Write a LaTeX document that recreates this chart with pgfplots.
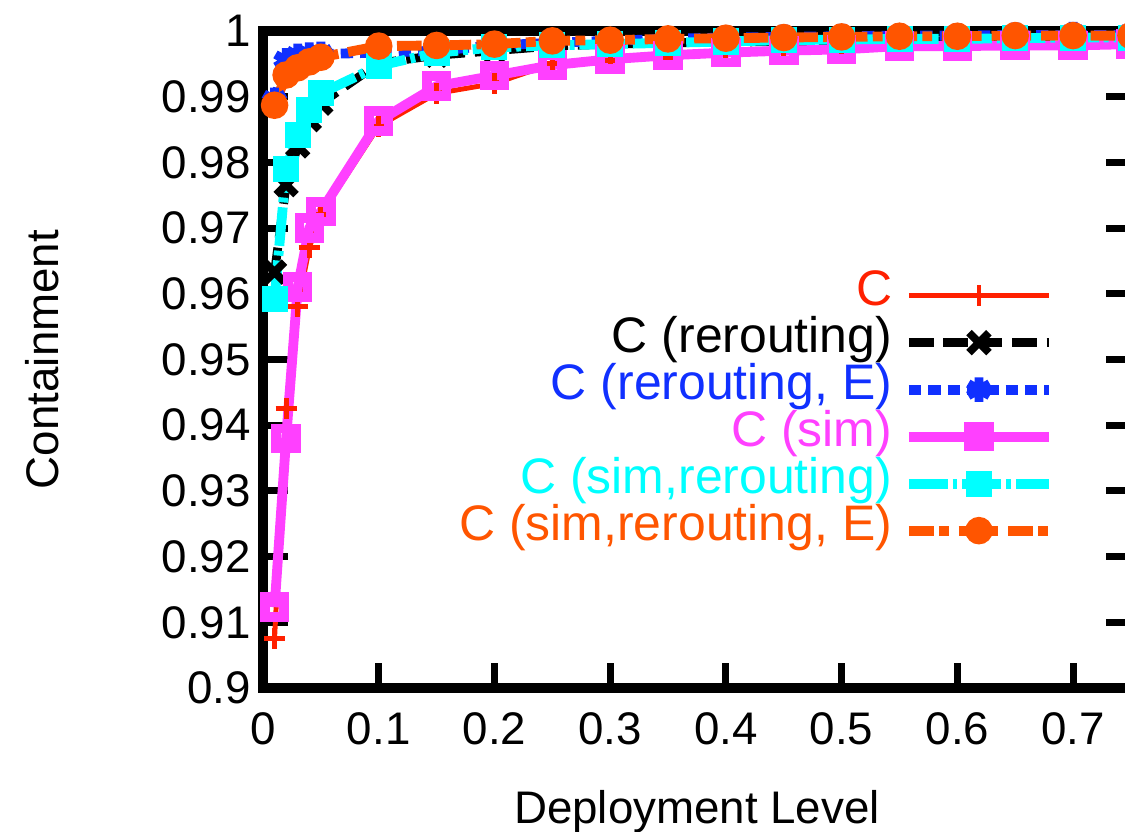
\documentclass[border=0pt]{standalone}
\usepackage{fontspec}
\setmainfont{Liberation Sans}
\usepackage{pgfplots}
\pgfplotsset{compat=1.18}
\definecolor{cC}{RGB}{255,32,0}
\definecolor{cR}{RGB}{0,0,0}
\definecolor{cRE}{RGB}{16,48,255}
\definecolor{cS}{RGB}{255,64,255}
\definecolor{cSR}{RGB}{0,255,255}
\definecolor{cSRE}{RGB}{255,85,0}
\begin{document}
\begin{tikzpicture}[font=\fontsize{13}{15}\selectfont]
\useasboundingbox (0,0) rectangle (11.25,8.32);
\clip (0,0) rectangle (11.25,8.32);
\begin{axis}[
  at={(2.63cm,1.44cm)}, anchor=south west,
  scale only axis, width=8.68cm, height=6.57cm,
  xmin=0, xmax=0.75, ymin=0.9, ymax=1,
  xtick={0,0.1,0.2,0.3,0.4,0.5,0.6,0.7},
  xticklabels={0,0.1,0.2,0.3,0.4,0.5,0.6,0.7},
  ytick={0.9,0.91,0.92,0.93,0.94,0.95,0.96,0.97,0.98,0.99,1},
  yticklabels={0.9,0.91,0.92,0.93,0.94,0.95,0.96,0.97,0.98,0.99,1},
  xticklabel style={yshift=-0.12cm},
  tick align=inside, major tick length=0.25cm,
  axis line style={line width=2.8pt},
  every tick/.style={black, line width=2pt},
  xlabel={Deployment Level}, ylabel={Containment},
  xlabel style={at={(axis description cs:0.5,-0.2055)}, anchor=base},
  ylabel style={at={(axis description cs:-0.236,0.5)}, anchor=base, rotate=0},
  legend plot pos=right, legend cell align=right,
  legend image code/.code={\draw[mark repeat=2,mark phase=2] plot coordinates {(0cm,0cm) (0.7cm,0cm) (1.4cm,0cm)};},
  legend style={at={(0.912,0.634)}, anchor=north east, draw=none, fill=none,
    inner sep=0pt, row sep=0pt, column sep=0.12cm,
    font=\fontsize{14.2}{16}\selectfont,
    nodes={inner sep=0pt, text height=0.33cm, text depth=0.14cm}},
]
\addplot[color=cC, line width=1.4pt, mark=+, mark size=3pt, mark options={solid}] coordinates {
(0.01,0.9076) (0.02,0.9425) (0.03,0.958) (0.04,0.967) (0.05,0.972) (0.1,0.9855) (0.15,0.9905) (0.2,0.992) (0.25,0.995) (0.3,0.9955) (0.35,0.996) (0.4,0.997) (0.45,0.997) (0.5,0.9975) (0.55,0.9977) (0.6,0.9978) (0.65,0.998) (0.7,0.998) (0.75,0.998)};
\addlegendentry{\textcolor{cC}{C}}
\addplot[color=cR, line width=2.5pt, dash pattern=on 7pt off 2.8pt, mark=x, mark size=4pt, mark options={solid, line width=2.2pt}] coordinates {
(0.01,0.9633) (0.02,0.9766) (0.03,0.9825) (0.04,0.9865) (0.05,0.989) (0.1,0.9951) (0.15,0.9963) (0.2,0.997) (0.25,0.9977) (0.3,0.998) (0.35,0.9982) (0.4,0.9983) (0.45,0.9984) (0.5,0.9985) (0.55,0.9985) (0.6,0.9985) (0.65,0.9985) (0.7,0.9985) (0.75,0.9986)};
\addlegendentry{\textcolor{cR}{C (rerouting)}}
\addplot[color=cRE, line width=2.8pt, dash pattern=on 3.5pt off 2pt, mark=asterisk, mark size=3.5pt, mark options={solid, line width=2.5pt}] coordinates {
(0.01,0.9895) (0.02,0.9955) (0.03,0.9962) (0.04,0.9964) (0.05,0.9965) (0.1,0.9967) (0.15,0.997) (0.2,0.9978) (0.25,0.9982) (0.3,0.9985) (0.35,0.9988) (0.4,0.999) (0.45,0.9991) (0.5,0.9992) (0.55,0.9993) (0.6,0.9993) (0.65,0.9994) (0.7,0.9995) (0.75,0.9995)};
\addlegendentry{\textcolor{cRE}{C (rerouting, E)}}
\addplot[color=cS, line width=2.8pt, mark=square, mark size=2.8pt, mark options={solid}] coordinates {
(0.01,0.9123) (0.02,0.938) (0.03,0.961) (0.04,0.970) (0.05,0.9725) (0.1,0.9863) (0.15,0.9916) (0.2,0.9932) (0.25,0.9948) (0.3,0.9957) (0.35,0.9963) (0.4,0.9967) (0.45,0.997) (0.5,0.9972) (0.55,0.9977) (0.6,0.9977) (0.65,0.9978) (0.7,0.9978) (0.75,0.998)};
\addlegendentry{\textcolor{cS}{C (sim)}}
\addplot[color=cSR, line width=2.8pt, dash pattern=on 11pt off 1.4pt on 1.4pt off 1.4pt, mark=square*, mark size=2.3pt, mark options={solid}] coordinates {
(0.01,0.9592) (0.02,0.979) (0.03,0.9842) (0.04,0.988) (0.05,0.9905) (0.1,0.9947) (0.15,0.9967) (0.2,0.9975) (0.25,0.9978) (0.3,0.998) (0.35,0.9982) (0.4,0.9984) (0.45,0.9986) (0.5,0.9987) (0.55,0.9988) (0.6,0.9988) (0.65,0.9989) (0.7,0.999) (0.75,0.999)};
\addlegendentry{\textcolor{cSR}{C (sim,rerouting)}}
\addplot[color=cSRE, line width=2.8pt, dash pattern=on 7pt off 1.5pt on 2.8pt off 2.8pt, mark=*, mark size=2.5pt, mark options={solid}] coordinates {
(0.01,0.9887) (0.02,0.9933) (0.03,0.9944) (0.04,0.9953) (0.05,0.996) (0.1,0.9977) (0.15,0.9978) (0.2,0.998) (0.25,0.9985) (0.3,0.9986) (0.35,0.9988) (0.4,0.9989) (0.45,0.999) (0.5,0.9991) (0.55,0.9992) (0.6,0.9992) (0.65,0.9993) (0.7,0.9993) (0.75,0.9993)};
\addlegendentry{\textcolor{cSRE}{C (sim,rerouting, E)}}
\end{axis}
\end{tikzpicture}
\end{document}
